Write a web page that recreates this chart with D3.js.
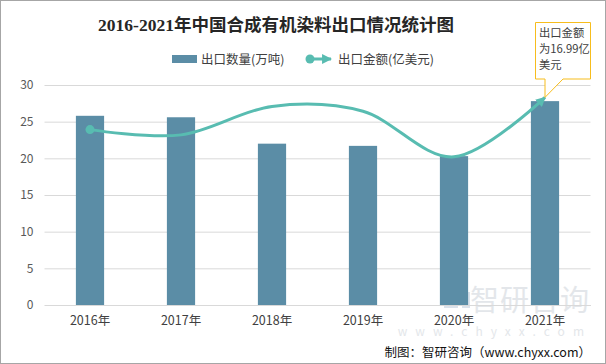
<!DOCTYPE html>
<html><head><meta charset="utf-8">
<script src="https://cdn.jsdelivr.net/npm/d3@7"></script>
<style>
html,body{margin:0;padding:0;background:#fff;}
svg{display:block;}
</style></head>
<body>
<svg id="c" width="606" height="364"></svg>
<script>
const categories = ["2016年","2017年","2018年","2019年","2020年","2021年"];
const volume = [25.8, 25.6, 22.0, 21.7, 20.3, 27.8];      // 出口数量(万吨)
const amount = [14.35, 13.92, 16.25, 15.85, 12.12, 16.99]; // 出口金额(亿美元)
const yTicks = [0, 5, 10, 15, 20, 25, 30];
const titleText = "2016-2021年中国合成有机染料出口情况统计图";
const legendLabels = ["出口数量(万吨)", "出口金额(亿美元)"];
const calloutLines = ["出口金额", "为16.99亿", "美元"];
const sourceText = "制图：智研咨询（www.chyxx.com）";

const svg = d3.select("#c");
const barColor = "#5b8da6", lineColor = "#58bcb1";
const sans = "'Noto Sans CJK SC','Noto Sans',sans-serif";

svg.append("rect").attr("x",0.5).attr("y",0.5).attr("width",605).attr("height",363)
  .attr("fill","#fff").attr("stroke","#a6a6a6");

const x = d3.scaleBand().domain(categories).range([44.5, 590.5]).paddingInner(0.69).paddingOuter(0.345);
const y = d3.scaleLinear().domain([0, 30]).range([305, 85]);
const y2 = d3.scaleLinear().domain([0, 18]).range([305, 85]);

// watermark
const wm = svg.append("g").attr("opacity", 0.5);
wm.append("text").attr("x", 590).attr("y", 311).attr("text-anchor","end")
  .attr("font-family", sans).attr("font-size", 29).attr("fill", "#c9cfd6").attr("letter-spacing", 1).text("智研咨询");
wm.append("text").attr("x", 592).attr("y", 336).attr("text-anchor","end")
  .attr("font-family", sans).attr("font-size", 12).attr("fill", "#c9cfd6").attr("letter-spacing", 8).text("www.chyxx.com");
wm.append("rect").attr("x",444).attr("y",288).attr("width",14).attr("height",20).attr("fill","#b9c7d8");
wm.append("rect").attr("x",462).attr("y",292).attr("width",8).attr("height",16).attr("fill","#b9c7d8");

// grid + y axis
const yAxis = d3.axisLeft(y).tickValues(yTicks).tickSize(-546).tickPadding(11);
const gy = svg.append("g").attr("transform","translate(44.5,0)").call(yAxis);
gy.select(".domain").remove();
gy.selectAll(".tick line").attr("stroke","#d9d9d9").attr("stroke-width",1);
gy.selectAll(".tick text").attr("font-family", sans).attr("font-size",12).attr("fill","#595959");

// bars
svg.append("g").selectAll("rect").data(volume).join("rect")
  .attr("x", (d,i) => x(categories[i]))
  .attr("width", x.bandwidth())
  .attr("y", d => y(d))
  .attr("height", d => y(0) - y(d))
  .attr("fill", barColor);

// x axis
const xAxis = d3.axisBottom(x).tickSize(0).tickPadding(11);
const gx = svg.append("g").attr("transform","translate(0,305)").call(xAxis);
gx.select(".domain").attr("stroke","#d9d9d9");
gx.selectAll(".tick text").attr("font-family", sans).attr("font-size",12.5).attr("fill","#404040");

// line
const defs = svg.append("defs");
defs.append("marker").attr("id","arr").attr("viewBox","0 0 10 10").attr("refX",9).attr("refY",5)
  .attr("markerWidth",3.3).attr("markerHeight",3.3).attr("markerUnits","strokeWidth").attr("orient","auto")
  .append("path").attr("d","M0,0L10,5L0,10Z").attr("fill",lineColor);
const cx = i => x(categories[i]) + x.bandwidth()/2;
const line = d3.line().x((d,i)=>cx(i)).y(d=>y2(d)).curve(d3.curveCardinal.tension(0));
svg.append("path").datum(amount).attr("d", line).attr("fill","none")
  .attr("stroke", lineColor).attr("stroke-width", 3).attr("marker-end","url(#arr)");
svg.append("circle").attr("cx", cx(0)).attr("cy", y2(amount[0])).attr("r",4.5).attr("fill",lineColor);

// title
svg.append("text").attr("x", 276).attr("y", 31).attr("text-anchor","middle")
  .attr("font-family","'Liberation Serif','Noto Sans CJK SC',serif").attr("font-weight","bold")
  .attr("font-size",17.5).attr("fill","#262626").text(titleText);

// legend
const lg = svg.append("g");
lg.append("rect").attr("x",172).attr("y",55).attr("width",25).attr("height",8).attr("fill",barColor);
lg.append("text").attr("x",201).attr("y",63.5).attr("font-family",sans).attr("font-size",12.5).attr("fill","#404040").text(legendLabels[0]);
lg.append("line").attr("x1",310).attr("x2",331).attr("y1",59).attr("y2",59).attr("stroke",lineColor).attr("stroke-width",3).attr("marker-end","url(#arr)");
lg.append("circle").attr("cx",310).attr("cy",59).attr("r",4.5).attr("fill",lineColor);
lg.append("text").attr("x",338).attr("y",63.5).attr("font-family",sans).attr("font-size",12.5).attr("fill","#404040").text(legendLabels[1]);

// callout
const tipX = cx(5), tipY = y2(amount[5]);
const bx0 = 535.5, bx1 = 590.5, by0 = 22.5, by1 = 79;
svg.append("path")
  .attr("d", `M${bx0},${by0}L${bx1},${by0}L${bx1},${by1}L${563},${by1}L${tipX},${tipY}L${545},${by1}L${bx0},${by1}Z`)
  .attr("fill","#fff").attr("stroke","#f7bd1d").attr("stroke-width",1);
svg.append("g").selectAll("text").data(calloutLines).join("text")
  .attr("x", 539).attr("y",(d,i)=>37+i*16).attr("font-family",sans).attr("font-size",11.3)
  .attr("fill","#404040").text(d=>d);

// source
svg.append("text").attr("x", 591).attr("y", 357).attr("text-anchor","end")
  .attr("font-family","'Noto Sans CJK SC',sans-serif").attr("font-size",12.5).attr("fill","#111").text(sourceText);
</script>
</body></html>
